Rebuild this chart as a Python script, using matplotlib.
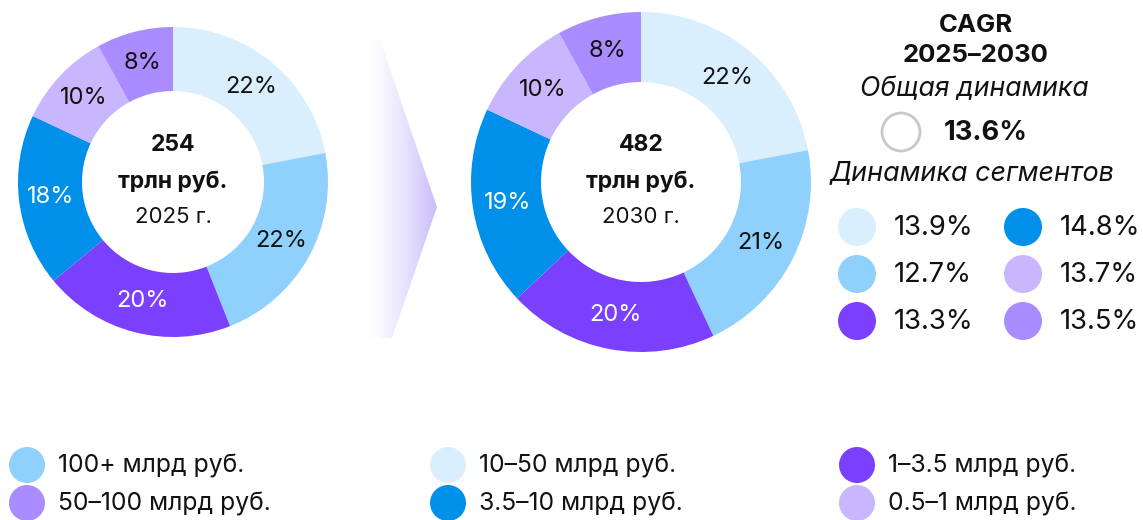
import numpy as np
import matplotlib

matplotlib.use("Agg")
from matplotlib import pyplot as plt
from matplotlib import font_manager as fm
from matplotlib.patches import Circle, Polygon
from matplotlib.colors import LinearSegmentedColormap

plt.rcParams["font.family"] = ["Inter", "DejaVu Sans"]

# data
segments = ["10–50 млрд руб.", "100+ млрд руб.", "1–3.5 млрд руб.",
            "3.5–10 млрд руб.", "0.5–1 млрд руб.", "50–100 млрд руб."]
colors = ["#D9EFFD", "#8FD1FC", "#7B40FE", "#0090EA", "#C8B7FE", "#AB8CFF"]
share_2025 = [22, 22, 20, 18, 10, 8]
share_2030 = [22, 21, 20, 19, 10, 8]
totals = [254, 482]
years = ["2025 г.", "2030 г."]
cagr_total = 13.6
cagr_segments = [13.9, 12.7, 13.3, 14.8, 13.7, 13.5]
legend_order = [1, 0, 2, 5, 3, 4]
dark_segments = [2, 3]


def italic_family():
    # pick the first family that really has an italic face
    for fam in ["Inter", "Noto Sans", "Open Sans", "Lato", "Roboto", "DejaVu Sans"]:
        try:
            path = fm.findfont(fm.FontProperties(family=fam, style="italic"),
                               fallback_to_default=False)
        except Exception:
            continue
        name = path.lower()
        if "italic" in name or "oblique" in name:
            return fam
    return "DejaVu Sans"


ITALIC = [italic_family(), "DejaVu Sans"]

W, H = 1143, 520
fig = plt.figure(figsize=(W / 100, H / 100), dpi=100)
ax = fig.add_axes([0, 0, 1, 1])


def Y(py):
    return H - py


def donut(values, cx, cy, r, r_in, total, year):
    wedges, _, autotexts = ax.pie(
        values, colors=colors, startangle=90, counterclock=False,
        center=(cx, Y(cy)), radius=r, autopct=lambda p: "%d%%" % round(p),
        pctdistance=(r + r_in) / 2 / r,
        wedgeprops=dict(width=r - r_in, linewidth=0),
        textprops=dict(fontsize=17, color="#111111"))
    for i, t in enumerate(autotexts):
        if i in dark_segments:
            t.set_color("white")
    ax.text(cx, Y(cy - 37), str(total), ha="center", va="center",
            fontsize=16.5, fontweight="bold", color="#111111")
    ax.text(cx, Y(cy), "трлн руб.", ha="center", va="center",
            fontsize=16.5, fontweight="bold", color="#111111")
    ax.text(cx, Y(cy + 35), year, ha="center", va="center",
            fontsize=16, color="#111111")


donut(share_2025, 173, 182, 155, 91, totals[0], years[0])
donut(share_2030, 641, 182, 170, 100, totals[1], years[1])

# arrow between donuts
poly = Polygon([(368, Y(40)), (380, Y(40)), (437, Y(207)), (392, Y(338)), (368, Y(338))],
               closed=True, facecolor="none", edgecolor="none")
ax.add_patch(poly)
cmap = LinearSegmentedColormap.from_list("arr", ["#FFFFFF", "#C9BDFB"])
grad = np.linspace(0, 1, 256).reshape(1, -1) ** 1.3
im = ax.imshow(grad, cmap=cmap, extent=[368, 437, Y(338), Y(40)], aspect="auto", zorder=0)
im.set_clip_path(poly)

# CAGR block
ax.text(976, Y(25), "CAGR", ha="center", va="center", fontsize=18.5, fontweight="bold", color="#111111")
ax.text(976, Y(55), "2025–2030", ha="center", va="center", fontsize=18.5, fontweight="bold", color="#111111")
ax.text(974, Y(89), "Общая динамика", ha="center", va="center", fontsize=19.2,
        style="italic", family=ITALIC, color="#111111")
ax.add_patch(Circle((901, Y(132)), 19, facecolor="white", edgecolor="#C8C8C8", lw=2))
ax.text(944, Y(133), "%.1f%%" % cagr_total, ha="left", va="center", fontsize=19.7, fontweight="bold", color="#111111")
ax.text(972, Y(173), "Динамика сегментов", ha="center", va="center", fontsize=19.4,
        style="italic", family=ITALIC, color="#111111")

for k, v in enumerate(cagr_segments):
    col, row = divmod(k, 3)
    cx = 857 + col * 166
    cy = 227 + row * 47
    ax.add_patch(Circle((cx, Y(cy)), 19, facecolor=colors[k], edgecolor="none"))
    ax.text(cx + 37, Y(cy + 1), "%.1f%%" % v, ha="left", va="center", fontsize=19.7, color="#111111")

# bottom legend
col_x = [27, 448, 857]
row_y = [465, 503]
for n, k in enumerate(legend_order):
    row, col = divmod(n, 3)
    cx, cy = col_x[col], row_y[row]
    ax.add_patch(Circle((cx, Y(cy)), 18, facecolor=colors[k], edgecolor="none"))
    ax.text(cx + 31, Y(cy + 1), segments[k], ha="left", va="center", fontsize=17.8, color="#111111")

ax.set_xlim(0, W)
ax.set_ylim(0, H)
ax.set_aspect("auto")
ax.axis("off")

fig.savefig("out.png", dpi=100)
